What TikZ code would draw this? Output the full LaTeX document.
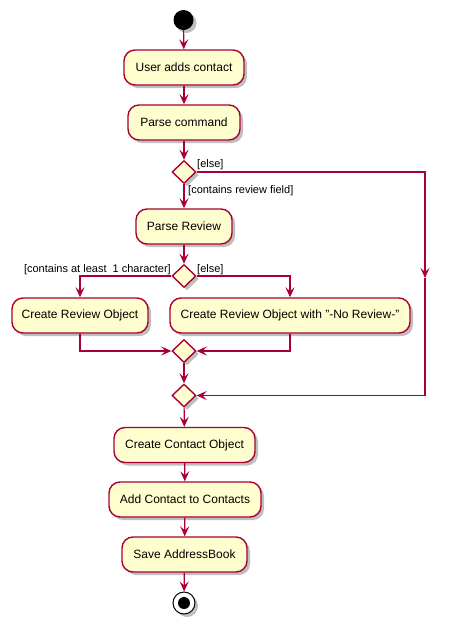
\documentclass[tikz,border=0pt]{standalone}
\usepackage{fontspec}
\setmainfont{Liberation Sans}
\usetikzlibrary{arrows.meta,shapes.geometric,shadows}
\definecolor{pfill}{HTML}{FEFECE}
\definecolor{pline}{HTML}{A80036}
\tikzset{
  shad/.style={drop shadow={shadow xshift=3pt,shadow yshift=-3pt,fill=black,opacity=0.25}},
  act/.style={draw=pline,fill=pfill,line width=1.4pt,rounded corners=11pt,shad,
    minimum height=35pt,inner sep=0pt,font=\fontsize{12}{14}\selectfont,align=center},
  dia/.style={draw=pline,fill=pfill,line width=1.4pt,shape=diamond,shad,
    minimum width=24pt,minimum height=23pt,inner sep=0pt},
  arr/.style={draw=pline,line width=1.2pt,-{Stealth[length=10pt,width=9pt,inset=4pt]}},
  lbl/.style={font=\fontsize{11}{13}\selectfont,inner sep=0pt}
}
\begin{document}
\begin{tikzpicture}[x=1pt,y=-1pt]
\useasboundingbox (0,0) rectangle (449,630);
\node[circle,fill=black,minimum size=20pt,inner sep=0pt,shad] (start) at (183.5,20) {};
\node[act,minimum width=120pt] (ua) at (184,67.5) {User adds contact};
\node[act,minimum width=112pt] (pc) at (184,122.5) {Parse command};
\node[dia] (d1) at (184,172) {};
\node[act,minimum width=96pt] (pr) at (184,226.5) {Parse Review};
\node[dia] (d2) at (184,276) {};
\node[act,minimum width=136pt] (cro) at (80,315.5) {Create Review Object};
\node[act,minimum width=240pt] (crn) at (290,315.5) {Create Review Object with \char34-No Review-\char34};
\node[dia] (d3) at (184,351) {};
\node[dia] (d4) at (184,395.5) {};
\node[act,minimum width=141pt] (cco) at (184.5,445) {Create Contact Object};
\node[act,minimum width=152pt] (acc) at (185,499.5) {Add Contact to Contacts};
\node[act,minimum width=125pt] (sab) at (184.5,554.5) {Save AddressBook};
\node[circle,draw=black,fill=white,line width=1pt,minimum size=22pt,inner sep=0pt,shad] (end) at (184,603) {};
\node[circle,fill=black,minimum size=12pt,inner sep=0pt] (endin) at (end) {};
\coordinate (c1) at (425,172);
\coordinate (c2) at (425,278);
\draw[arr] (start) -- (ua);
\draw[arr] (ua) -- (pc);
\draw[arr] (pc) -- (d1);
\draw[arr] (d1) -- (pr);
\draw[arr] (pr) -- (d2);
\draw[arr] (d1.east) -- (c1) -- (c2);
\draw[arr] (c2) |- (d4.east);
\draw[arr] (d2.west) -| (cro.north);
\draw[arr] (d2.east) -| (crn.north);
\draw[arr] (cro.south) |- (d3.west);
\draw[arr] (crn.south) |- (d3.east);
\draw[arr] (d3) -- (d4);
\draw[arr] (d4) -- (cco);
\draw[arr] (cco) -- (acc);
\draw[arr] (acc) -- (sab);
\draw[arr] (sab) -- (end);
\node[lbl,anchor=west] (l1) at (197,165) {[else]};
\node[lbl,anchor=west] (l2) at (188,191) {[contains review field]};
\node[lbl,anchor=east] (l3) at (171,270) {[contains at least\ \ 1 character]};
\node[lbl,anchor=west] (l4) at (197,270) {[else]};
\end{tikzpicture}
\end{document}
